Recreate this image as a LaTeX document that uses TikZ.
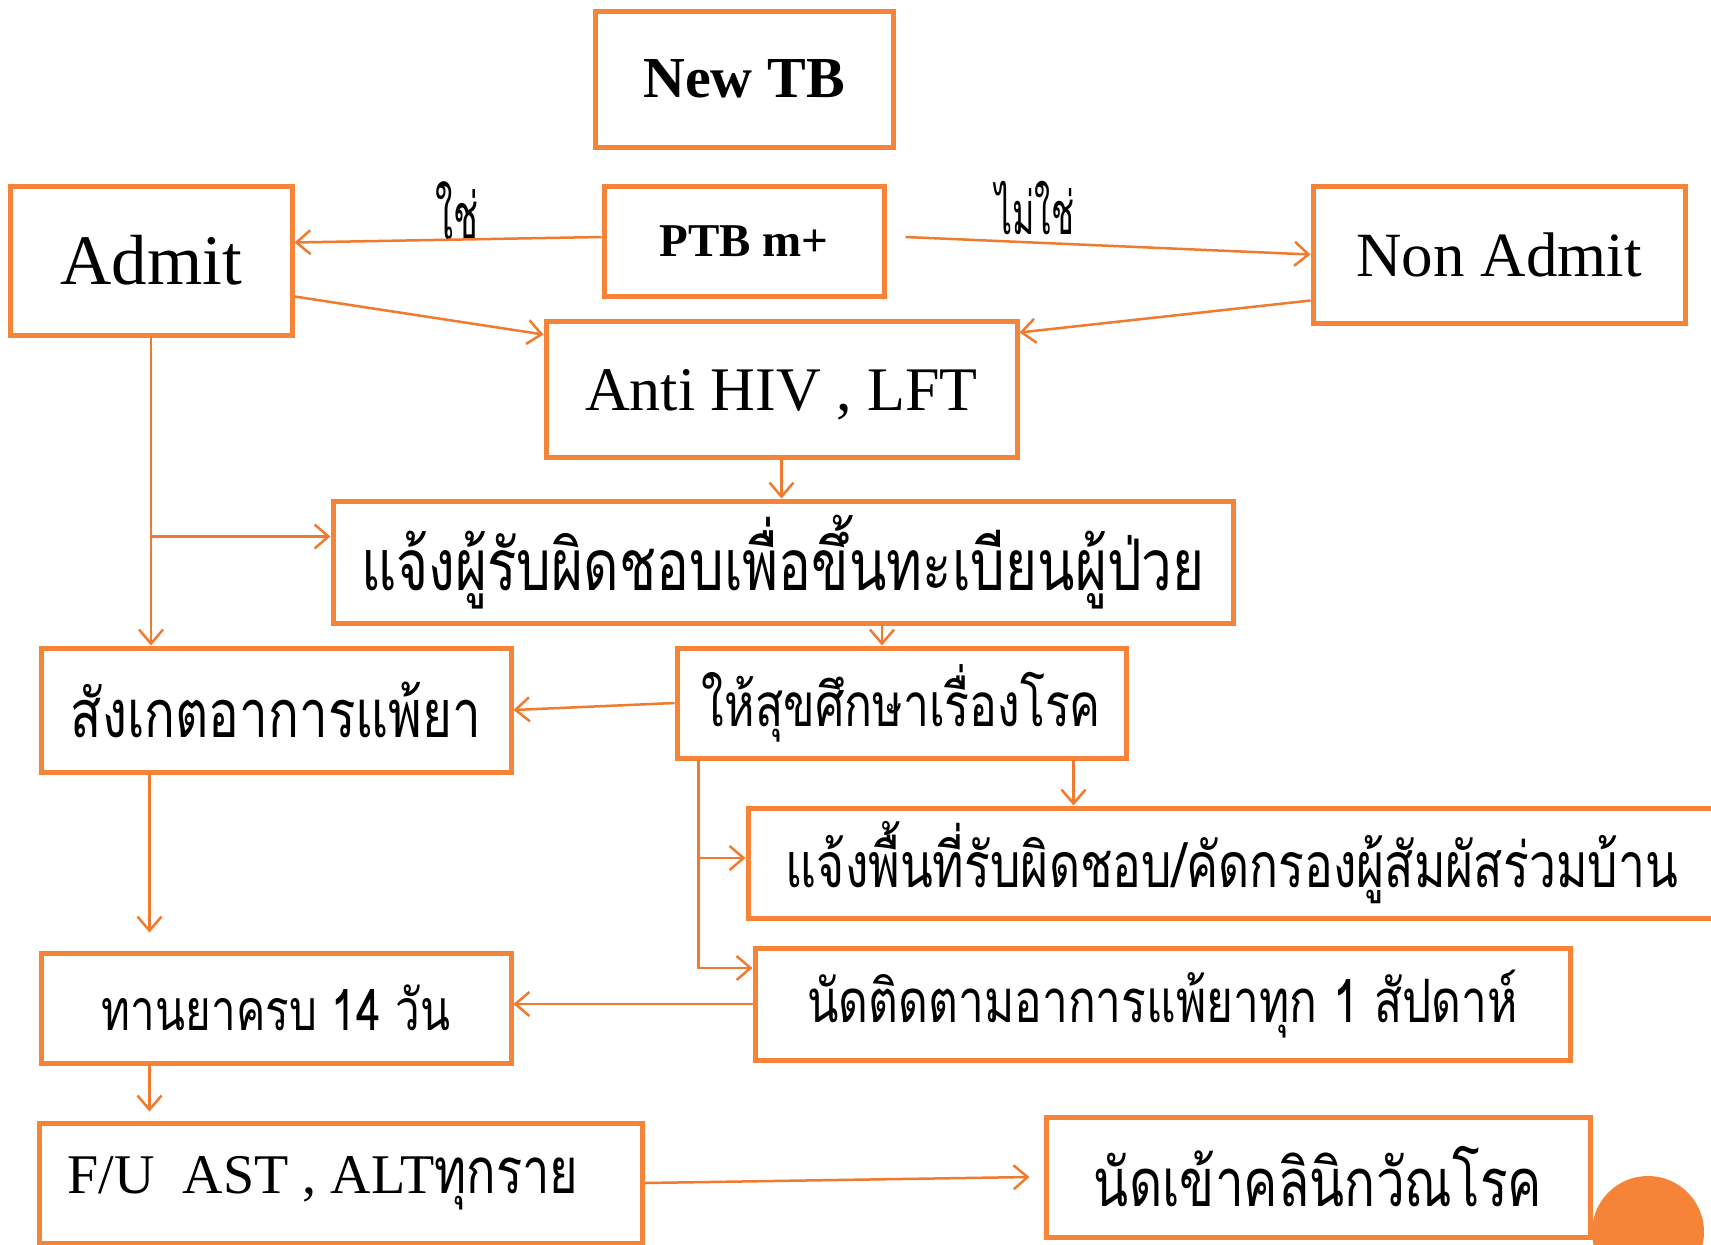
\documentclass[tikz,border=0pt]{standalone}
\usepackage{fontspec}
\setmainfont{Liberation Serif}
\newfontfamily\thaifont[Script=Thai]{Loma}
\usepackage{graphicx}
\usetikzlibrary{arrows.meta,calc}
\definecolor{tbor}{RGB}{245,131,56}
\definecolor{tline}{RGB}{240,122,45}
\newcommand{\thv}{1.3}
\newcommand{\thw}[2]{\resizebox{#1}{!}{\scalebox{1}[\thv]{\thaifont #2}}}
\newcommand{\thl}[2]{\resizebox{#1}{!}{\scalebox{1}[1.75]{\thaifont #2}}}
\begin{document}
\begin{tikzpicture}[x=1pt,y=-1pt,
 box/.style={draw=tbor,line width=5pt,rectangle,inner sep=0pt,align=center},
 conn/.style={draw=tline,line width=2.5pt},
 arr/.style={conn,-{Straight Barb[length=14pt,width=24pt]}},
 lbl/.style={inner sep=0pt}
 ]
\useasboundingbox (0,0) rectangle (1711,1245);
\fill[white] (0,0) rectangle (1711,1245);

\node[box,minimum width=298pt,minimum height=136pt] (newtb) at (744,79) {\fontsize{58}{60}\selectfont\bfseries New TB};
\node[box,minimum width=282pt,minimum height=149pt] (admit) at (151,260.5) {\fontsize{71}{75}\selectfont Admit};
\node[box,minimum width=280pt,minimum height=110pt] (ptb) at (744,241) {\fontsize{47}{50}\selectfont\bfseries PTB m+};
\node[box,minimum width=372pt,minimum height=137pt] (nonadmit) at (1499,254.5) {\fontsize{63}{66}\selectfont Non Admit};
\node[box,minimum width=471pt,minimum height=136pt] (anti) at (781.5,389) {\fontsize{62}{66}\selectfont\raisebox{-6pt}[\height][\depth]{Anti HIV , LFT}};
\node[box,minimum width=900pt,minimum height=122pt] (reg) at (783,562) {\thw{843pt}{แจ้งผู้รับผิดชอบเพื่อขึ้นทะเบียนผู้ป่วย}};
\node[box,minimum width=470pt,minimum height=124pt] (obs) at (276,710) {\thw{410pt}{สังเกตอาการแพ้ยา}};
\node[box,minimum width=449pt,minimum height=110pt] (edu) at (901.5,703) {\thw{399pt}{ให้สุขศึกษาเรื่องโรค}};
\node[box,minimum width=968pt,minimum height=110pt] (area) at (1232,863) {\thw{892pt}{แจ้งพื้นที่รับผิดชอบ/คัดกรองผู้สัมผัสร่วมบ้าน}};
\node[box,minimum width=815pt,minimum height=112pt] (follow) at (1162.5,1004) {\thw{710pt}{นัดติดตามอาการแพ้ยาทุก 1 สัปดาห์}};
\node[box,minimum width=470pt,minimum height=110pt] (meds) at (276,1008) {\thw{348pt}{ทานยาครบ 14 วัน}};
\node[box,minimum width=603pt,minimum height=120pt] (fu) at (341,1183) {{\fontsize{56}{60}\selectfont F/U\ \ AST , ALT}\thw{144pt}{ทุกราย}\hspace{36pt}};
\node[box,minimum width=544pt,minimum height=120pt] (clinic) at (1318,1177) {\thw{448pt}{นัดเข้าคลินิกวัณโรค}};

\node[lbl] (yes) at (457,211) {\thl{43pt}{ใช่}};
\node[lbl] (no) at (1035,208) {\thl{79pt}{ไม่ใช่}};

% connectors
\draw[arr] ($(ptb.west)+(0,-4)$) -- ($(admit.east)+(0,-18)$);
\draw[arr] ($(ptb.east)+(19,-4)$) -- (nonadmit.west);
\draw[arr] ($(admit.east)+(0,36)$) -- ($(anti.north west)+(0,16)$);
\draw[arr] ($(nonadmit.south west)+(0,-25)$) -- ($(anti.north east)+(0,14)$);
\draw[arr] (anti.south) -- (anti.south |- reg.north);
\coordinate (j1) at ($(admit.south)+(0,199)$);
\draw[arr] (admit.south) -- (admit.south |- obs.north);
\draw[arr] (j1) -- (j1 -| reg.west);
\coordinate (e2) at ($(edu.north)+(-19.5,0)$);
\draw[arr] (e2 |- reg.south) -- (e2);
\draw[arr] (edu.west) -- (obs.east);
\coordinate (e1) at ($(edu.south west)+(24,0)$);
\draw[arr] (e1) |- ($(area.west)+(0,-5)$);
\draw[arr] (e1) |- ($(follow.west)+(0,-36)$);
\coordinate (e3) at ($(edu.south east)+(-55,0)$);
\draw[arr] (e3) -- (e3 |- area.north);
\coordinate (o1) at ($(obs.south west)+(111,0)$);
\draw[arr,shorten >=18pt] (o1) -- (o1 |- meds.north);
\draw[arr] (follow.west) -- (follow.west -| meds.east);
\coordinate (m1) at ($(meds.south west)+(111,0)$);
\draw[arr,shorten >=9pt] (m1) -- (m1 |- fu.north);
\draw[arr] (fu.east) -- ($(clinic.west)+(-14,0)$);

\fill[tbor] (1648,1232) circle[radius=56pt];
\end{tikzpicture}
\end{document}
